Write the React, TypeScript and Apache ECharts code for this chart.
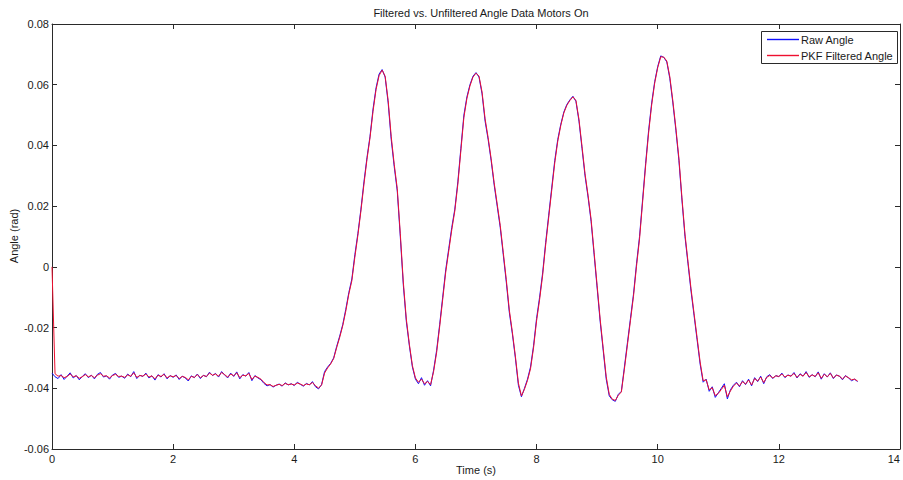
import React, { useEffect, useRef } from "react";
import * as echarts from "echarts";

// Sampling: each row holds one second of samples, 0.05 s apart (row k starts at t = k s)
const SAMPLE_STEP = 0.05;

const rawAngle: number[][] = [
  [-0.0350, -0.0362, -0.0368, -0.0355, -0.0371, -0.0360, -0.0349, -0.0366, -0.0358, -0.0372, -0.0361, -0.0352, -0.0365, -0.0357, -0.0369, -0.0354, -0.0348, -0.0363, -0.0359, -0.0370],
  [-0.0356, -0.0351, -0.0364, -0.0360, -0.0367, -0.0353, -0.0362, -0.0345, -0.0368, -0.0357, -0.0361, -0.0350, -0.0366, -0.0359, -0.0373, -0.0355, -0.0363, -0.0352, -0.0369, -0.0358],
  [-0.0364, -0.0356, -0.0371, -0.0360, -0.0366, -0.0376, -0.0359, -0.0365, -0.0353, -0.0368, -0.0357, -0.0362, -0.0347, -0.0358, -0.0351, -0.0363, -0.0345, -0.0356, -0.0366, -0.0350],
  [-0.0361, -0.0346, -0.0369, -0.0355, -0.0360, -0.0348, -0.0375, -0.0358, -0.0366, -0.0372, -0.0384, -0.0392, -0.0388, -0.0396, -0.0390, -0.0386, -0.0393, -0.0382, -0.0389, -0.0385],
  [-0.0391, -0.0380, -0.0387, -0.0393, -0.0384, -0.0389, -0.0378, -0.0395, -0.0402, -0.0388, -0.0345, -0.0330, -0.0318, -0.0300, -0.0262, -0.0228, -0.0190, -0.0140, -0.0085, -0.0040],
  [0.0040, 0.0110, 0.0190, 0.0280, 0.0360, 0.0430, 0.0520, 0.0590, 0.0635, 0.0650, 0.0625, 0.0540, 0.0420, 0.0330, 0.0250, 0.0100, -0.0060, -0.0180, -0.0260, -0.0330],
  [-0.0370, -0.0385, -0.0365, -0.0390, -0.0375, -0.0392, -0.0340, -0.0275, -0.0190, -0.0100, -0.0010, 0.0060, 0.0130, 0.0190, 0.0280, 0.0390, 0.0500, 0.0560, 0.0600, 0.0628],
  [0.0640, 0.0625, 0.0570, 0.0480, 0.0420, 0.0350, 0.0270, 0.0200, 0.0130, 0.0040, -0.0050, -0.0150, -0.0220, -0.0300, -0.0390, -0.0428, -0.0400, -0.0370, -0.0330, -0.0260],
  [-0.0170, -0.0100, -0.0020, 0.0080, 0.0170, 0.0260, 0.0350, 0.0420, 0.0470, 0.0510, 0.0535, 0.0550, 0.0562, 0.0545, 0.0480, 0.0390, 0.0300, 0.0230, 0.0150, 0.0040],
  [-0.0070, -0.0180, -0.0275, -0.0370, -0.0425, -0.0438, -0.0443, -0.0420, -0.0410, -0.0330, -0.0250, -0.0170, -0.0090, 0.0010, 0.0100, 0.0220, 0.0340, 0.0450, 0.0540, 0.0610],
  [0.0660, 0.0695, 0.0690, 0.0675, 0.0620, 0.0540, 0.0450, 0.0350, 0.0220, 0.0100, 0.0010, -0.0080, -0.0160, -0.0240, -0.0320, -0.0380, -0.0370, -0.0410, -0.0395, -0.0430],
  [-0.0415, -0.0400, -0.0385, -0.0435, -0.0405, -0.0390, -0.0380, -0.0395, -0.0375, -0.0388, -0.0370, -0.0392, -0.0365, -0.0378, -0.0360, -0.0385, -0.0362, -0.0355, -0.0368, -0.0358],
  [-0.0362, -0.0350, -0.0365, -0.0356, -0.0360, -0.0348, -0.0366, -0.0352, -0.0360, -0.0345, -0.0364, -0.0355, -0.0362, -0.0346, -0.0370, -0.0352, -0.0363, -0.0349, -0.0368, -0.0356],
  [-0.0360, -0.0372, -0.0358, -0.0366, -0.0375, -0.0370, -0.0378],
];

const filteredAngle: number[][] = [
  [0.0000, -0.0352, -0.0360, -0.0358, -0.0365, -0.0361, -0.0353, -0.0362, -0.0359, -0.0367, -0.0362, -0.0355, -0.0362, -0.0358, -0.0365, -0.0357, -0.0352, -0.0360, -0.0359, -0.0366],
  [-0.0358, -0.0354, -0.0361, -0.0360, -0.0364, -0.0356, -0.0360, -0.0349, -0.0364, -0.0358, -0.0360, -0.0353, -0.0363, -0.0359, -0.0369, -0.0357, -0.0361, -0.0354, -0.0366, -0.0359],
  [-0.0362, -0.0358, -0.0368, -0.0361, -0.0364, -0.0372, -0.0361, -0.0364, -0.0355, -0.0365, -0.0358, -0.0361, -0.0350, -0.0357, -0.0353, -0.0360, -0.0348, -0.0355, -0.0363, -0.0353],
  [-0.0359, -0.0349, -0.0365, -0.0357, -0.0359, -0.0351, -0.0371, -0.0360, -0.0364, -0.0370, -0.0381, -0.0389, -0.0388, -0.0394, -0.0390, -0.0387, -0.0391, -0.0384, -0.0388, -0.0386],
  [-0.0389, -0.0383, -0.0386, -0.0391, -0.0386, -0.0388, -0.0381, -0.0392, -0.0399, -0.0390, -0.0350, -0.0333, -0.0320, -0.0302, -0.0266, -0.0232, -0.0194, -0.0146, -0.0090, -0.0046],
  [0.0032, 0.0104, 0.0184, 0.0272, 0.0354, 0.0425, 0.0512, 0.0584, 0.0630, 0.0648, 0.0628, 0.0548, 0.0430, 0.0338, 0.0258, 0.0110, -0.0050, -0.0172, -0.0255, -0.0325],
  [-0.0366, -0.0380, -0.0370, -0.0385, -0.0378, -0.0388, -0.0345, -0.0282, -0.0197, -0.0108, -0.0018, 0.0052, 0.0122, 0.0184, 0.0272, 0.0382, 0.0492, 0.0555, 0.0596, 0.0625],
  [0.0638, 0.0628, 0.0576, 0.0488, 0.0426, 0.0356, 0.0277, 0.0207, 0.0137, 0.0048, -0.0042, -0.0142, -0.0214, -0.0294, -0.0383, -0.0425, -0.0403, -0.0374, -0.0336, -0.0267],
  [-0.0178, -0.0108, -0.0028, 0.0072, 0.0162, 0.0252, 0.0342, 0.0414, 0.0466, 0.0507, 0.0532, 0.0548, 0.0560, 0.0548, 0.0486, 0.0397, 0.0307, 0.0236, 0.0157, 0.0048],
  [-0.0062, -0.0172, -0.0268, -0.0362, -0.0420, -0.0436, -0.0440, -0.0423, -0.0412, -0.0337, -0.0257, -0.0177, -0.0097, 0.0002, 0.0092, 0.0212, 0.0332, 0.0442, 0.0533, 0.0605],
  [0.0656, 0.0692, 0.0691, 0.0678, 0.0626, 0.0547, 0.0457, 0.0358, 0.0228, 0.0108, 0.0017, -0.0072, -0.0153, -0.0233, -0.0313, -0.0375, -0.0372, -0.0405, -0.0398, -0.0424],
  [-0.0417, -0.0404, -0.0390, -0.0428, -0.0409, -0.0393, -0.0383, -0.0392, -0.0378, -0.0386, -0.0373, -0.0389, -0.0368, -0.0376, -0.0363, -0.0381, -0.0364, -0.0358, -0.0366, -0.0359],
  [-0.0361, -0.0353, -0.0363, -0.0357, -0.0360, -0.0351, -0.0364, -0.0354, -0.0360, -0.0348, -0.0362, -0.0356, -0.0361, -0.0349, -0.0367, -0.0354, -0.0362, -0.0351, -0.0366, -0.0357],
  [-0.0360, -0.0369, -0.0360, -0.0365, -0.0372, -0.0370, -0.0376],
];

const seriesNames = ["Raw Angle", "PKF Filtered Angle"];
const seriesColors = ["#1010ff", "#ee1030"];
const titleText = "Filtered vs. Unfiltered Angle Data Motors On";
const xAxisTitle = "Time (s)";
const yAxisTitle = "Angle (rad)";

function toPairs(rows: number[][]): [number, number][] {
  const out: [number, number][] = [];
  rows.forEach((row, sec) => {
    row.forEach((v, j) => {
      out.push([+(sec + j * SAMPLE_STEP).toFixed(2), v]);
    });
  });
  return out;
}

const FONT = "'Liberation Sans', Arial, sans-serif";
const TEXT_COLOR = "#1a1a1a";
const AXIS_COLOR = "#2a2a2a";

export default function App() {
  const ref = useRef<HTMLDivElement>(null);
  useEffect(() => {
    document.body.style.margin = "0";
    if (!ref.current) return;
    const chart = echarts.init(ref.current, undefined, { renderer: "svg" });
    const axisLine = { show: true, onZero: false, lineStyle: { color: AXIS_COLOR, width: 1 } };
    const tick = { show: true, inside: true, length: 5, lineStyle: { color: AXIS_COLOR } };
    const yFmt = (v: number) => (Math.abs(v) < 1e-9 ? "0" : v.toFixed(2));

    // legend box drawn as graphic (MATLAB style)
    const legendX = 761;
    const legendY = 31;
    const rowH = 16;
    const graphics: any[] = [
      {
        type: "rect",
        shape: { x: legendX + 0.5, y: legendY + 0.5, width: 136, height: 32 },
        style: { fill: "#ffffff", stroke: AXIS_COLOR, lineWidth: 1 },
        z: 10,
      },
    ];
    seriesNames.forEach((name, i) => {
      const cy = legendY + 8.5 + i * rowH;
      graphics.push({
        type: "line",
        shape: { x1: legendX + 6, y1: cy, x2: legendX + 38, y2: cy },
        style: { stroke: seriesColors[i], lineWidth: 1.4 },
        z: 11,
      });
      graphics.push({
        type: "text",
        x: legendX + 40,
        y: cy,
        style: {
          text: name,
          fill: TEXT_COLOR,
          fontSize: 11,
          fontFamily: FONT,
          verticalAlign: "middle",
          align: "left",
        },
        z: 11,
      });
    });
    // axis titles
    graphics.push({
      type: "text",
      x: 14,
      y: 236,
      rotation: Math.PI / 2,
      style: {
        text: yAxisTitle,
        fill: TEXT_COLOR,
        fontSize: 11,
        fontFamily: FONT,
        align: "center",
        verticalAlign: "middle",
      },
    });
    graphics.push({
      type: "text",
      x: 476,
      y: 470,
      style: {
        text: xAxisTitle,
        fill: TEXT_COLOR,
        fontSize: 11,
        fontFamily: FONT,
        align: "center",
        verticalAlign: "middle",
      },
    });

    chart.setOption({
      animation: false,
      backgroundColor: "#ffffff",
      textStyle: { fontFamily: FONT },
      title: {
        text: titleText,
        left: 476,
        textAlign: "center",
        top: 2,
        textStyle: { fontSize: 11, fontWeight: "normal", color: TEXT_COLOR, fontFamily: FONT },
      },
      graphic: graphics,
      grid: {
        left: 52,
        right: 3,
        top: 24,
        bottom: 31,
        containLabel: false,
        outerBoundsMode: "none",
      },
      xAxis: [
        {
          type: "value",
          min: 0,
          max: 14,
          interval: 2,
          position: "bottom",
          axisLine,
          axisTick: tick,
          splitLine: { show: false },
          axisLabel: {
            fontSize: 11,
            color: TEXT_COLOR,
            margin: 4,
            fontFamily: FONT,
            alignMaxLabel: "right",
          },
        },
        {
          type: "value",
          min: 0,
          max: 14,
          interval: 2,
          position: "top",
          axisLine,
          axisTick: tick,
          splitLine: { show: false },
          axisLabel: { show: false },
        },
      ],
      yAxis: [
        {
          type: "value",
          min: -0.06,
          max: 0.08,
          interval: 0.02,
          position: "left",
          axisLine,
          axisTick: tick,
          splitLine: { show: false },
          axisLabel: { fontSize: 11, color: TEXT_COLOR, margin: 3, formatter: yFmt, fontFamily: FONT },
        },
        {
          type: "value",
          min: -0.06,
          max: 0.08,
          interval: 0.02,
          position: "right",
          axisLine,
          axisTick: tick,
          splitLine: { show: false },
          axisLabel: { show: false },
        },
      ],
      series: [
        {
          name: seriesNames[0],
          type: "line",
          xAxisIndex: 0,
          yAxisIndex: 0,
          data: toPairs(rawAngle),
          showSymbol: false,
          symbol: "none",
          lineStyle: { color: seriesColors[0], width: 1 },
          itemStyle: { color: seriesColors[0] },
        },
        {
          name: seriesNames[1],
          type: "line",
          xAxisIndex: 0,
          yAxisIndex: 0,
          data: toPairs(filteredAngle),
          showSymbol: false,
          symbol: "none",
          lineStyle: { color: seriesColors[1], width: 1 },
          itemStyle: { color: seriesColors[1] },
        },
      ],
    });
    return () => chart.dispose();
  }, []);
  return (
    <div
      ref={ref}
      style={{ position: "fixed", left: 0, top: 0, width: 903, height: 480 }}
    />
  );
}
